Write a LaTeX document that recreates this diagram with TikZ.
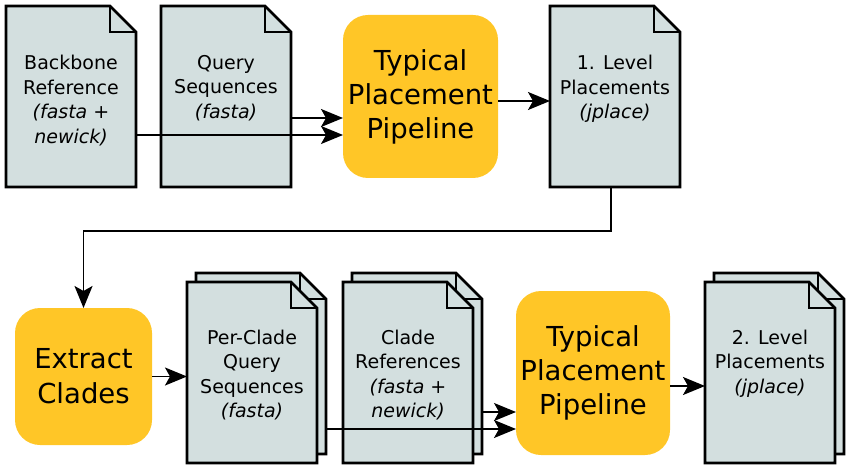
\documentclass[tikz,border=0pt]{standalone}
\usepackage{fontspec}
\setmainfont{DejaVu Sans}
\usetikzlibrary{arrows.meta,calc}
\definecolor{docfill}{RGB}{211,223,223}
\definecolor{procfill}{RGB}{255,198,39}
\tikzset{
  frame/.style={inner sep=0pt, outer sep=0pt, minimum width=130pt, minimum height=181pt},
  docline/.style={draw=black, line width=2.7pt, fill=docfill, line join=miter},
  foldline/.style={draw=black, line width=2.7pt, line join=miter},
  doctext/.style={align=center, inner sep=0pt, anchor=north, font=\fontsize{19}{24.5}\selectfont},
  proc/.style={fill=procfill, rounded corners=25pt, align=center, inner sep=0pt, outer sep=0pt, font=\fontsize{27.5}{34}\selectfont},
  conn/.style={line width=1.7pt, -{Stealth[length=22pt,width=18pt,inset=5pt]}},
}
\newcommand{\docshape}[1]{%
  \path[docline] (#1.north west) -- ([xshift=-26pt]#1.north east) -- ([yshift=-26pt]#1.north east) -- (#1.south east) -- (#1.south west) -- cycle;
  \path[foldline] ([xshift=-26pt]#1.north east) |- ([yshift=-26pt]#1.north east);
}
\begin{document}
\begin{tikzpicture}[x=1pt,y=-1pt]
\useasboundingbox (0,0) rectangle (850,470);
% frames of documents
\node[frame] (d1) at (71,96.5) {};
\node[frame] (d2) at (226,96.5) {};
\node[frame] (d3) at (615,96.5) {};
\node[frame] (pcb) at (261,363.5) {};
\node[frame] (pc) at (252,372.5) {};
\node[frame] (crb) at (417,363.5) {};
\node[frame] (cr) at (408,372.5) {};
\node[frame] (l2b) at (779,363.5) {};
\node[frame] (l2) at (770,372.5) {};
\docshape{d1}
\docshape{d2}
\docshape{d3}
\docshape{pcb}
\docshape{pc}
\docshape{crb}
\docshape{cr}
\docshape{l2b}
\docshape{l2}
% document texts
\node[doctext] (d1t) at ([yshift=-49pt]d1.north) {Backbone\\Reference\\\textit{(fasta +}\\\textit{newick)}};
\node[doctext] (d2t) at ([yshift=-49pt]d2.north) {Query\\Sequences\\\textit{(fasta)}};
\node[doctext] (d3t) at ([yshift=-49pt]d3.north) {1. Level\\Placements\\\textit{(jplace)}};
\node[doctext] (pct) at ([yshift=-47.5pt]pc.north) {Per-Clade\\Query\\Sequences\\\textit{(fasta)}};
\node[doctext] (crt) at ([yshift=-47.5pt]cr.north) {Clade\\References\\\textit{(fasta +}\\\textit{newick)}};
\node[doctext] (l2t) at ([yshift=-47.5pt]l2.north) {2. Level\\Placements\\\textit{(jplace)}};
% processes
\node[proc, minimum width=155pt, minimum height=163pt] (p1) at (420.5,96.5) {Typical\\Placement\\Pipeline};
\node[proc, minimum width=154pt, minimum height=164pt] (p2) at (593,373) {Typical\\Placement\\Pipeline};
\node[proc, minimum width=137pt, minimum height=137pt, font=\fontsize{27.5}{35}\selectfont] (ex) at (83.5,376.5) {Extract\\Clades};
% connector start points
\coordinate (s1) at ($(d2.east)+(0,21.5)$);
\coordinate (s2) at ($(d1.east)+(0,38.5)$);
\coordinate (s3) at ($(p1.east)+(0,4.5)$);
\coordinate (s4) at ($(d3.south)+(-4,0)$);
\coordinate (s5) at ($(pcb.east)+(0,65.5)$);
\coordinate (s6) at ($(crb.east)+(0,48.5)$);
\coordinate (s7) at ($(p2.east)+(0,13)$);
% connectors
\draw[conn] (s1) -- (s1 -| p1.west);
\draw[conn] (s2) -- (s2 -| p1.west);
\draw[conn] (s3) -- (s3 -| d3.west);
\draw[conn] (s4) -- ++(0,44) -| (ex.north);
\draw[conn] (ex.east) -- (ex.east -| pc.west);
\draw[conn] (s5) -- (s5 -| p2.west);
\draw[conn] (s6) -- (s6 -| p2.west);
\draw[conn] (s7) -- (s7 -| l2.west);
\end{tikzpicture}
\end{document}
